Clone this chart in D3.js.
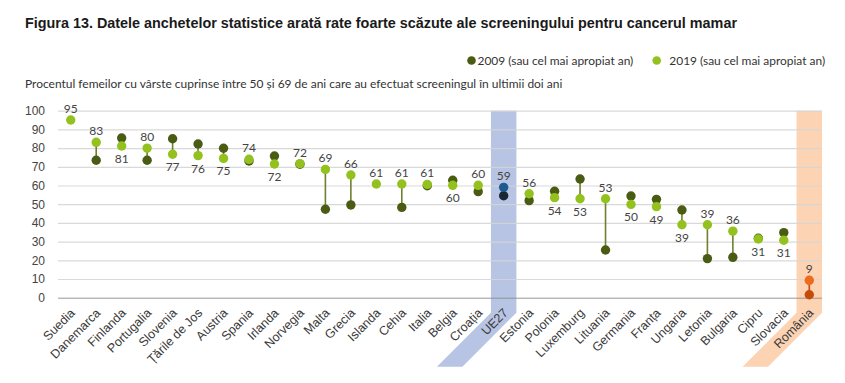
<!DOCTYPE html>
<html>
<head>
<meta charset="utf-8">
<script src="https://cdn.jsdelivr.net/npm/d3@7"></script>
<style>
  body { margin: 0; background: #fff; }
  svg { display: block; font-family: Lato, 'Open Sans', sans-serif; }
  .grid line { stroke: #d5d5d5; stroke-width: 1.2; }
  .grid .domain { display: none; }
  .grid text { fill: #444; font-size: 12px; }
  .x.axis .domain, .x.axis line { display: none; }
  .x.axis text { fill: #3a3a3a; font-size: 12.5px; }
  .lbl { fill: #444; font-size: 12px; text-anchor: middle; }
</style>
</head>
<body>
<div id="chart"></div>
<script>
var countries = ['Suedia', 'Danemarca', 'Finlanda', 'Portugalia', 'Slovenia', 'Țările de Jos', 'Austria',
  'Spania', 'Irlanda', 'Norvegia', 'Malta', 'Grecia', 'Islanda', 'Cehia', 'Italia', 'Belgia', 'Croația',
  'UE27', 'Estonia', 'Polonia', 'Luxemburg', 'Lituania', 'Germania', 'Franța', 'Ungaria', 'Letonia',
  'Bulgaria', 'Cipru', 'Slovacia', 'România'];
var values2009 = [null, 73.5, 85.4, 73.5, 85, 82.2, 79.9, 73.1, 75.8, 71.4, 47.3, 49.6, null, 48.3, 59.9,
  62.8, 56.7, 54.5, 51.9, 56.9, 63.5, 25.5, 54.4, 52.6, 46.9, 20.9, 21.6, 31.8, 34.8, 1.6];
var values2019 = [95, 83.1, 81.1, 80, 76.7, 76, 74.5, 74, 71.5, 71.7, 68.6, 65.6, 60.8, 60.8, 60.6,
  60.1, 60.1, 59, 55.6, 53.5, 52.9, 52.9, 49.9, 48.7, 39, 39, 35.6, 31.4, 30.7, 9.3];
var yTicks = [0, 10, 20, 30, 40, 50, 60, 70, 80, 90, 100];
var highlights = ['UE27', 'România'];

var title = 'Figura 13. Datele anchetelor statistice arată rate foarte scăzute ale screeningului pentru cancerul mamar';
var subtitle = 'Procentul femeilor cu vârste cuprinse între 50 și 69 de ani care au efectuat screeningul în ultimii doi ani';
var legendLabels = ['2009 (sau cel mai apropiat an)', '2019 (sau cel mai apropiat an)'];

var W = 845, H = 383;
var plotLeft = 58, plotRight = 822, plotTop = 110.7, plotBottom = 297.7;

var colors = {
  old: '#4a5c14', recent: '#93c11e', line: '#6e7f2e',
  euOld: '#1b2635', euRecent: '#1d5b8f', roOld: '#c44b0a', roRecent: '#ee6a1c',
  euBand: '#b7c4e3', roBand: '#fcd4b4'
};

var data = countries.map(function(c, i) {
  return { name: c, v09: values2009[i], v19: values2019[i] };
});

var x = d3.scaleBand().domain(countries).range([plotLeft, plotRight]);
var y = d3.scaleLinear().domain([0, 100]).range([plotBottom, plotTop]);

var svg = d3.select('#chart').append('svg')
  .attr('width', W)
  .attr('height', H);

// fit a text to a given width by adjusting its font size
function fit(sel, w) {
  var fs = parseFloat(sel.style('font-size'));
  var len = sel.node().getComputedTextLength();
  sel.style('font-size', (fs * w / len) + 'px');
}

svg.append('text')
  .attr('x', 25).attr('y', 28)
  .style('font-family', "'Liberation Sans Narrow', 'Liberation Sans', sans-serif")
  .style('font-weight', 'bold')
  .style('font-size', '15px')
  .attr('fill', '#1a1a1a')
  .attr('textLength', 712)
  .attr('lengthAdjust', 'spacingAndGlyphs')
  .text(title);

svg.append('text')
  .attr('x', 25).attr('y', 88)
  .style('font-size', '12px')
  .attr('fill', '#333')
  .text(subtitle)
  .call(fit, 538);

// legend
var legend = svg.append('g').attr('class', 'legend');
[[471.5, 477.5, colors.old], [656.7, 669.3, colors.recent]].forEach(function(p, i) {
  legend.append('circle').attr('cx', p[0]).attr('cy', 60.5).attr('r', 4.3).attr('fill', p[2]);
  legend.append('text').attr('x', p[1]).attr('y', 64.5)
    .style('font-size', '12px').attr('fill', '#333')
    .text(legendLabels[i])
    .call(fit, 156);
});

// highlight bands (vertical then bent along the labels)
var bandBend = plotBottom + 15, bandDrop = 54;
highlights.forEach(function(h) {
  var x0 = x(h), x1 = x(h) + x.bandwidth();
  var pts = [[x0, plotTop], [x1, plotTop], [x1, bandBend], [x1 - bandDrop, bandBend + bandDrop],
    [x0 - bandDrop, bandBend + bandDrop], [x0, bandBend]];
  svg.append('polygon')
    .attr('points', pts.map(function(p) { return p.join(','); }).join(' '))
    .attr('fill', h === 'UE27' ? colors.euBand : colors.roBand);
});

// gridlines and y labels
var grid = svg.append('g')
  .attr('class', 'grid')
  .attr('transform', 'translate(' + plotLeft + ',0)')
  .call(d3.axisLeft(y).tickValues(yTicks).tickSize(-(plotRight - plotLeft)).tickPadding(13));
grid.selectAll('line').attr('stroke-opacity', 0.9);
grid.selectAll('.tick')
  .filter(function(d) { return d === 0; })
  .select('line')
  .style('stroke', '#8c8c8c')
  .style('stroke-width', 1);

// x labels
var xAxis = svg.append('g')
  .attr('class', 'x axis')
  .attr('transform', 'translate(0,' + plotBottom + ')')
  .call(d3.axisBottom(x).tickSize(0));
xAxis.selectAll('text')
  .attr('text-anchor', 'end')
  .attr('dy', null)
  .attr('y', 0)
  .attr('transform', 'translate(5,16) rotate(-45)');

function dotColor(d, which) {
  if (d.name === 'UE27') return which === 'old' ? colors.euOld : colors.euRecent;
  if (d.name === 'România') return which === 'old' ? colors.roOld : colors.roRecent;
  return which === 'old' ? colors.old : colors.recent;
}

var cx = function(d) { return x(d.name) + x.bandwidth() / 2; };

svg.append('g').selectAll('line')
  .data(data.filter(function(d) { return d.v09 != null; }))
  .join('line')
  .attr('x1', cx).attr('x2', cx)
  .attr('y1', function(d) { return y(d.v09); })
  .attr('y2', function(d) { return y(d.v19); })
  .attr('stroke', function(d) { return d.name === 'România' ? colors.roOld : colors.line; })
  .attr('stroke-width', 1.6);

svg.append('g').selectAll('circle')
  .data(data.filter(function(d) { return d.v09 != null; }))
  .join('circle')
  .attr('cx', cx)
  .attr('cy', function(d) { return y(d.v09); })
  .attr('r', 4.7)
  .attr('fill', function(d) { return dotColor(d, 'old'); });

svg.append('g').selectAll('circle')
  .data(data)
  .join('circle')
  .attr('cx', cx)
  .attr('cy', function(d) { return y(d.v19); })
  .attr('r', 4.7)
  .attr('fill', function(d) { return dotColor(d, 'recent'); });

// value labels for 2019, above when it is the higher point
svg.append('g').selectAll('text')
  .data(data)
  .join('text')
  .attr('class', 'lbl')
  .attr('x', cx)
  .attr('y', function(d) {
    var above = d.v09 == null || d.v19 >= d.v09;
    return above ? y(d.v19) - 7 : y(d.v19) + 17;
  })
  .text(function(d) { return Math.round(d.v19); });
</script>
</body>
</html>
